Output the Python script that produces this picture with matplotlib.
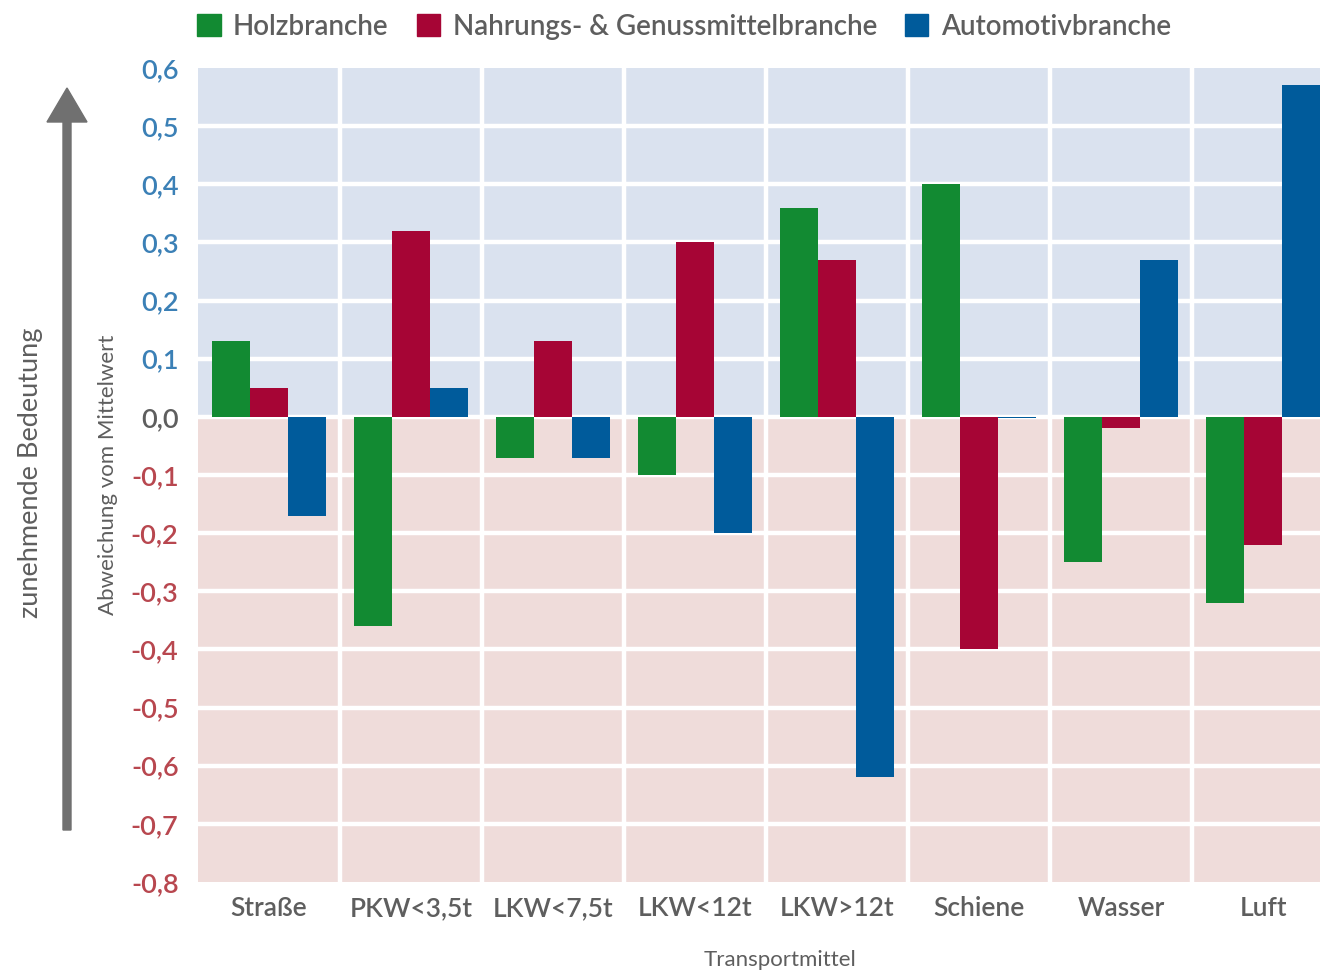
import matplotlib
matplotlib.use("Agg")
import matplotlib.pyplot as plt
import matplotlib.patches as mpatches
import numpy as np

plt.rcParams['font.family'] = ['Lato', 'DejaVu Sans']

# Daten
kategorien = ["Straße", "PKW<3,5t", "LKW<7,5t", "LKW<12t", "LKW>12t", "Schiene", "Wasser", "Luft"]
holz = [0.13, -0.36, -0.07, -0.10, 0.36, 0.40, -0.25, -0.32]
nahrung = [0.05, 0.32, 0.13, 0.30, 0.27, -0.40, -0.02, -0.22]
auto = [-0.17, 0.05, -0.07, -0.20, -0.62, -0.002, 0.27, 0.57]
serien = ["Holzbranche", "Nahrungs- & Genussmittelbranche", "Automotivbranche"]
yticks = [0.6, 0.5, 0.4, 0.3, 0.2, 0.1, 0.0, -0.1, -0.2, -0.3, -0.4, -0.5, -0.6, -0.7, -0.8]

farben = ["#128a32", "#a60535", "#005b9b"]
grau = "#5e5e5e"

fig = plt.figure(figsize=(13.2, 9.75), dpi=100)
ax = fig.add_axes([198/1320, 93/975, 1122/1320, 814/975])

# Hintergrund
ax.axhspan(0, 0.6, color="#dae2ef", zorder=0, lw=0)
ax.axhspan(-0.8, 0, color="#efdcda", zorder=0, lw=0)
for y in yticks[1:-1]:
    ax.axhline(y, color="white", lw=3.2, zorder=1)
for i in range(len(kategorien) - 1):
    ax.axvline(i + 0.5, color="white", lw=3.2, zorder=1)

x = np.arange(len(kategorien))
w = 0.268
for k, (werte, farbe, name) in enumerate(zip([holz, nahrung, auto], farben, serien)):
    ax.bar(x + (k - 1) * w, werte, width=w, color=farbe, label=name, zorder=3)

ax.set_xlim(-0.5, 7.4)
ax.set_ylim(-0.8, 0.6)
ax.set_yticks(yticks)
ax.set_yticklabels([f"{v:.1f}".replace(".", ",") for v in yticks], fontweight="semibold")
ax.set_xticks(x)
ax.set_xticklabels(kategorien, fontweight="semibold")
ax.tick_params(axis="y", length=0, pad=14, labelsize=19.5)
ax.tick_params(axis="x", length=0, pad=10, labelsize=19, labelcolor=grau)
for lab, v in zip(ax.get_yticklabels(), yticks):
    if v > 0:
        lab.set_color("#3b80b6")
    elif v < 0:
        lab.set_color("#b8474f")
    else:
        lab.set_color(grau)
for s in ax.spines.values():
    s.set_visible(False)

ax.set_xlabel("Transportmittel", fontsize=16, color=grau, va="center")
ax.xaxis.set_label_coords((780 - 198) / 1122, -78 / 814)
ax.set_ylabel("Abweichung vom Mittelwert", fontsize=16, color=grau, labelpad=9)

# Pfeil links
pfeil = mpatches.FancyArrow(0.67, 1.45, 0, 7.42, width=0.08, head_width=0.40,
                            head_length=0.34, length_includes_head=True,
                            color="#707070", transform=fig.dpi_scale_trans)
fig.add_artist(pfeil)
fig.text(31/1320, 1 - 473/975, "zunehmende Bedeutung", rotation=90, ha="center",
         va="center", fontsize=19.5, color=grau)

handles = [mpatches.Patch(color=f) for f in farben]
fig.legend(handles, serien, loc="center left", bbox_to_anchor=(172/1320, 1 - 27/975), ncol=3,
           frameon=False, handlelength=0.85, handleheight=0.85,
           handletextpad=0.45, columnspacing=1.0, labelcolor=grau,
           prop={"size": 20, "weight": "semibold"})

fig.savefig("out.png", dpi=100)
